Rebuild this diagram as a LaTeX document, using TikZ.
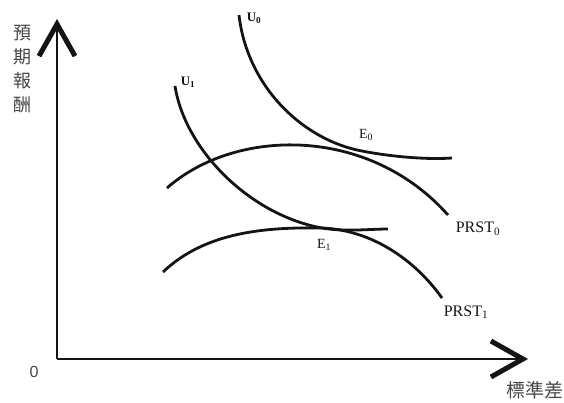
\documentclass[tikz,border=0pt]{standalone}
\usepackage{fontspec}
\setmainfont{Liberation Serif}
\newfontfamily\cjk{Noto Sans CJK TC}
\newfontfamily\numfont{Liberation Sans}
\usepackage{tikz}
\usetikzlibrary{arrows.meta,positioning,calc}
\definecolor{tinta}{RGB}{20,20,20}
\definecolor{grisletra}{RGB}{70,70,70}

\begin{document}
\begin{tikzpicture}[x=1pt,y=-1pt,
ejes/.style={line width=2.4pt,draw=tinta,-{Straight Barb[length=32pt,width=36pt,line width=5pt]}},
curva/.style={line width=2.8pt,draw=tinta},
etq/.style={inner sep=0pt,text=tinta},
cjklbl/.style={inner sep=0pt,text=grisletra,font=\cjk\fontsize{18}{24}\selectfont,align=center}
]
\useasboundingbox (0,0) rectangle (564,403);
% axes
\coordinate (o) at (57,359);
\coordinate (ytop) at (57,19);
\coordinate (xend) at (528,359);
\draw[ejes] (o) -- (ytop);
\draw[ejes] (o) -- (xend);
\node[etq,text=grisletra,font=\numfont\fontsize{16}{16}\selectfont] (cero) at (34,372) {0};
\node[cjklbl] (ylbl) at (22,69) {預\\期\\報\\酬};
\node[cjklbl,font=\cjk\fontsize{19}{19}\selectfont] (xlbl) at (535,390) {標準差};
% indifference curves
\coordinate (u0a) at (239,15);
\coordinate (e0) at (357,150);
\coordinate (u0b) at (452,158);
\draw[curva] (u0a) .. controls (247,85) and (300,137) .. (e0)
  .. controls (385,156) and (425,160) .. (u0b);
\coordinate (u1a) at (175,86);
\coordinate (e1) at (322,228);
\coordinate (u1b) at (388,229);
\draw[curva] (u1a) .. controls (185,150) and (250,215) .. (e1)
  .. controls (345,232) and (370,229) .. (u1b);
% opportunity curves
\coordinate (p0a) at (167,188);
\coordinate (p0b) at (448,215);
\draw[curva] (p0a) .. controls (235,128) and (368,125) .. (p0b);
\coordinate (p1a) at (163,272);
\coordinate (p1b) at (442,298);
\draw[curva] (p1a) .. controls (205,232) and (265,227) .. (e1)
  .. controls (372,230) and (415,260) .. (p1b);
% labels
\node[etq,font=\bfseries\fontsize{13}{13}\selectfont] (lu0) at (254,18) {U\textsubscript{0}};
\node[etq,font=\bfseries\fontsize{13}{13}\selectfont] (lu1) at (188,82) {U\textsubscript{1}};
\node[etq,font=\fontsize{14}{14}\selectfont] (le0) at (366,135) {E\textsubscript{0}};
\node[etq,font=\fontsize{14}{14}\selectfont] (le1) at (324,245) {E\textsubscript{1}};
\node[etq,font=\fontsize{16}{16}\selectfont] (lp0) at (478,229) {PRST\textsubscript{0}};
\node[etq,font=\fontsize{16}{16}\selectfont] (lp1) at (466,312) {PRST\textsubscript{1}};
\end{tikzpicture}
\end{document}
